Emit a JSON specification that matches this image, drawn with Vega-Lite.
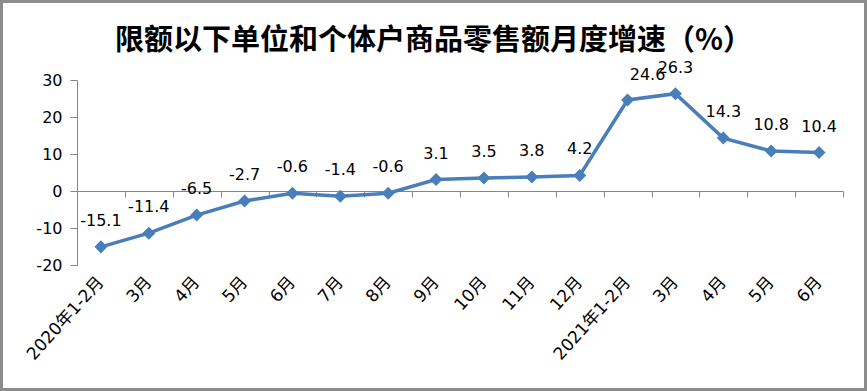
{
  "$schema": "https://vega.github.io/schema/vega-lite/v6.json",
  "width": 867,
  "height": 391,
  "autosize": {"type": "none"},
  "padding": 0,
  "background": "white",
  "title": {
    "text": "限额以下单位和个体户商品零售额月度增速（%）",
    "font": "Noto Sans CJK SC",
    "fontSize": 29,
    "fontWeight": "bold",
    "color": "#000000",
    "anchor": "middle",
    "offset": -56
  },
  "config": {
    "view": {"stroke": "#8c8c8c", "strokeWidth": 6},
    "locale": {"number": {"decimal": ".", "thousands": ",", "grouping": [3], "currency": ["", ""], "minus": "-"}}
  },
  "data": {
    "values": [
      {"m": "2020年1-2月", "v": -15.1},
      {"m": "2020|3月", "v": -11.4},
      {"m": "2020|4月", "v": -6.5},
      {"m": "2020|5月", "v": -2.7},
      {"m": "2020|6月", "v": -0.6},
      {"m": "2020|7月", "v": -1.4},
      {"m": "2020|8月", "v": -0.6},
      {"m": "2020|9月", "v": 3.1},
      {"m": "2020|10月", "v": 3.5},
      {"m": "2020|11月", "v": 3.8},
      {"m": "2020|12月", "v": 4.2},
      {"m": "2021年1-2月", "v": 24.6},
      {"m": "2021|3月", "v": 26.3},
      {"m": "2021|4月", "v": 14.3},
      {"m": "2021|5月", "v": 10.8},
      {"m": "2021|6月", "v": 10.4}
    ]
  },
  "encoding": {
    "x": {
      "field": "m",
      "type": "nominal",
      "sort": null,
      "scale": {"type": "band", "range": [77, 843], "paddingInner": 0, "paddingOuter": 0}
    },
    "y": {
      "field": "v",
      "type": "quantitative",
      "scale": {"domain": [-20, 30], "range": [265, 80], "nice": false, "zero": false},
      "axis": {
        "values": [-20, -10, 0, 10, 20, 30],
        "offset": -77,
        "domainColor": "#868686",
        "tickColor": "#868686",
        "tickSize": 7,
        "labelFont": "DejaVu Sans",
        "labelFontSize": 16,
        "labelColor": "#000000",
        "labelPadding": 8,
        "grid": false,
        "title": null
      }
    }
  },
  "layer": [
    {
      "mark": {"type": "line", "color": "#4A7EBB", "strokeWidth": 3.5},
      "encoding": {
        "x": {
          "field": "m",
          "type": "nominal",
          "sort": null,
          "axis": {
            "orient": "bottom",
            "offset": -200,
            "labels": false,
            "domain": true,
            "domainColor": "#868686",
            "ticks": true,
            "tickBand": "extent",
            "tickSize": 6,
            "tickColor": "#868686",
            "grid": false,
            "title": null
          }
        }
      }
    },
    {
      "mark": {"type": "point", "shape": "diamond", "filled": true, "color": "#4A7EBB", "size": 170, "opacity": 1},
      "encoding": {"x": {"field": "m", "type": "nominal", "sort": null, "axis": null}}
    },
    {
      "transform": [{"filter": "datum.m != '2021年1-2月'"}],
      "mark": {"type": "text", "font": "DejaVu Sans", "fontSize": 16, "color": "#000000", "baseline": "middle", "dy": -26},
      "encoding": {
        "x": {
          "field": "m",
          "type": "nominal",
          "sort": null,
          "axis": {
            "orient": "bottom",
            "offset": -126,
            "domain": false,
            "ticks": false,
            "tickSize": 0,
            "labelAngle": -48,
            "labelFont": "DejaVu Sans, Noto Sans CJK SC",
            "labelFontSize": 17,
            "labelColor": "#000000",
            "labelPadding": 14,
            "labelExpr": "slice(datum.label, indexof(datum.label, '|') + 1)",
            "grid": false,
            "title": null
          }
        },
        "text": {"field": "v", "type": "quantitative", "format": ".1f"}
      }
    },
    {
      "transform": [{"filter": "datum.m == '2021年1-2月'"}],
      "mark": {"type": "text", "font": "DejaVu Sans", "fontSize": 16, "color": "#000000", "baseline": "middle", "dx": 20, "dy": -25},
      "encoding": {
        "x": {"field": "m", "type": "nominal", "sort": null, "axis": null},
        "text": {"field": "v", "type": "quantitative", "format": ".1f"}
      }
    }
  ],
  "resolve": {"axis": {"x": "independent"}}
}
